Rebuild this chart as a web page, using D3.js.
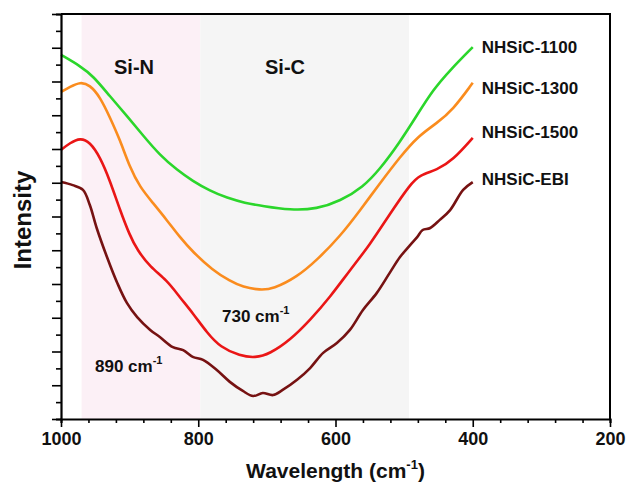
<!DOCTYPE html>
<html>
<head>
<meta charset="utf-8">
<script src="https://cdnjs.cloudflare.com/ajax/libs/d3/7.8.5/d3.min.js"></script>
<style>
    body { margin: 0; background: #fff; }
    svg text { font-family: Arial, "Liberation Sans", sans-serif; font-weight: bold; fill: #111; }
</style>
</head>
<body>
<svg></svg>
<script>
// wavelength (cm-1) and intensity (a.u.)
var wl1100 = [1000, 972, 953, 929, 904, 880, 856, 831, 808, 783, 758, 732, 706, 666, 627, 593, 560, 535, 506, 481, 458, 433, 400];
var in1100 = [10.79, 10.46, 10.16, 9.57, 8.98, 8.39, 7.82, 7.38, 7.05, 6.76, 6.55, 6.40, 6.31, 6.19, 6.22, 6.46, 6.87, 7.41, 8.21, 9.01, 9.75, 10.34, 11.02];

var wl1300 = [1000, 987, 972, 958, 943, 929, 914, 900, 885, 866, 846, 827, 808, 779, 754, 735, 710, 691, 656, 627, 593, 564, 535, 506, 481, 452, 429, 400];
var in1300 = [9.69, 9.84, 9.99, 9.90, 9.54, 8.95, 8.27, 7.47, 6.87, 6.40, 5.90, 5.39, 4.95, 4.41, 4.09, 3.91, 3.82, 3.85, 4.21, 4.71, 5.42, 6.19, 6.99, 7.76, 8.36, 8.77, 9.16, 9.96];

var wl1500 = [1000, 987, 972, 958, 943, 929, 914, 900, 889, 870, 846, 827, 808, 787, 768, 739, 717, 696, 666, 637, 608, 579, 550, 521, 491, 477, 452, 429, 400];
var in1500 = [7.97, 8.18, 8.33, 8.21, 7.76, 7.08, 6.19, 5.45, 5.01, 4.50, 4.12, 3.61, 3.14, 2.55, 2.13, 1.87, 1.81, 1.93, 2.34, 2.93, 3.61, 4.41, 5.16, 6.07, 6.96, 7.23, 7.38, 7.67, 8.33];

var wlEBI = [1000, 983, 968, 958, 948, 933, 918, 904, 889, 870, 856, 837, 822, 808, 793, 773, 754, 735, 720, 706, 691, 677, 656, 637, 618, 598, 579, 560, 540, 521, 506, 491, 481, 473, 462, 448, 433, 414, 400];
var inEBI = [7.02, 6.93, 6.79, 6.34, 5.66, 4.80, 4.03, 3.44, 3.02, 2.64, 2.43, 2.13, 2.04, 1.84, 1.75, 1.45, 1.10, 0.83, 0.68, 0.77, 0.71, 0.86, 1.16, 1.51, 1.96, 2.25, 2.64, 3.23, 3.73, 4.33, 4.80, 5.16, 5.39, 5.60, 5.66, 5.90, 6.19, 6.79, 7.02];

var seriesNames = ["NHSiC-1100", "NHSiC-1300", "NHSiC-1500", "NHSiC-EBI"];
var seriesColors = ["#2bd62b", "#fa8c1e", "#ea1616", "#761212"];

// shaded bands: [from, to] in cm-1
var bandNames = ["Si-N", "Si-C"];
var bandRanges = [[970, 797], [797, 493]];
var bandColors = ["#fcf0f6", "#f5f5f5"];

var xTicks = [1000, 800, 600, 400, 200];

var w = 626,
    h = 492;
var margin = { top: 14, right: 16, bottom: 73, left: 61 };

// label placement (px)
var labelY = [53, 94, 138, 185];
var bandLabelX = [134, 285];

var svg = d3.select("svg")
    .attr("width", w)
    .attr("height", h);

var x = d3.scaleLinear().domain([1000, 200]).range([margin.left, w - margin.right]);
var y = d3.scaleLinear().domain([0, 12]).range([h - margin.bottom, margin.top]);

// background bands
svg.append("g").selectAll("rect")
    .data(bandRanges)
    .enter().append("rect")
    .attr("x", function (d) { return x(d[0]); })
    .attr("y", y(12))
    .attr("width", function (d) { return x(d[1]) - x(d[0]); })
    .attr("height", y(0) - y(12))
    .attr("fill", function (d, i) { return bandColors[i]; });

svg.append("g").selectAll("text")
    .data(bandNames)
    .enter().append("text")
    .attr("x", function (d, i) { return bandLabelX[i]; })
    .attr("y", 74)
    .attr("text-anchor", "middle")
    .style("font-size", "20px")
    .text(function (d) { return d; });

// curves
var series = [
    { wl: wl1100, val: in1100 },
    { wl: wl1300, val: in1300 },
    { wl: wl1500, val: in1500 },
    { wl: wlEBI, val: inEBI }
];

var line = d3.line()
    .x(function (d) { return x(d[0]); })
    .y(function (d) { return y(d[1]); });

svg.append("g").selectAll("path")
    .data(series)
    .enter().append("path")
    .attr("fill", "none")
    .attr("stroke", function (d, i) { return seriesColors[i]; })
    .attr("stroke-width", 2.6)
    .attr("stroke-linejoin", "round")
    .attr("d", function (d, i) {
        // the EBI trace keeps its small ripples, the others are smooth
        line.curve(i == 3 ? d3.curveCatmullRom.alpha(0.5) : d3.curveBasis);
        return line(d.wl.map(function (v, k) { return [v, d.val[k]]; }));
    });

// series labels next to the line ends
svg.append("g").selectAll("text")
    .data(seriesNames)
    .enter().append("text")
    .attr("x", x(400) + 9)
    .attr("y", function (d, i) { return labelY[i]; })
    .style("font-size", "17px")
    .text(function (d) { return d; });

// peak annotations
function note(px, py, label) {
    var t = svg.append("text")
        .attr("x", px)
        .attr("y", py)
        .style("font-size", "17px");
    t.append("tspan").text(label + " cm");
    t.append("tspan").attr("dy", -8).style("font-size", "11px").text("-1");
}
note(222, 322, "730");
note(95, 372, "890");

// axes
var xAxis = svg.append("g")
    .attr("transform", "translate(0," + y(0) + ")")
    .call(d3.axisBottom(x).tickValues(d3.range(1000, 199, -40)).tickSize(4).tickFormat(""));
xAxis.selectAll(".tick line")
    .attr("y2", function (d) { return xTicks.indexOf(d) >= 0 ? 8 : 4; });
xAxis.selectAll(".tick")
    .filter(function (d) { return xTicks.indexOf(d) >= 0; })
    .append("text")
    .attr("y", 26)
    .attr("text-anchor", "middle")
    .style("font-size", "18px")
    .text(function (d) { return d; });

var yAxis = svg.append("g")
    .attr("transform", "translate(" + x(1000) + ",0)")
    .call(d3.axisLeft(y).tickValues(d3.range(0, 12.01, 0.5)).tickSize(5).tickFormat(""));
yAxis.selectAll(".tick line")
    .attr("x2", function (d) { return d % 1 == 0 ? -9 : -5; });

svg.selectAll(".domain").attr("stroke-width", 2.2);
svg.selectAll(".tick line").attr("stroke", "#000").attr("stroke-width", 1.6);

// frame top and right
svg.append("path")
    .attr("fill", "none")
    .attr("stroke", "#000")
    .attr("stroke-width", 2)
    .attr("d", "M" + x(1000) + "," + y(12) + "H" + x(200) + "V" + y(0));

// axis titles
var xt = svg.append("text")
    .attr("x", (x(1000) + x(200)) / 2)
    .attr("y", 478)
    .attr("text-anchor", "middle")
    .style("font-size", "21px");
xt.append("tspan").text("Wavelength (cm");
xt.append("tspan").attr("dy", -9).style("font-size", "13px").text("-1");
xt.append("tspan").attr("dy", 9).text(")");

svg.append("text")
    .attr("transform", "translate(31," + 220 + ") rotate(-90)")
    .attr("text-anchor", "middle")
    .style("font-size", "24px")
    .text("Intensity");
</script>
</body>
</html>
